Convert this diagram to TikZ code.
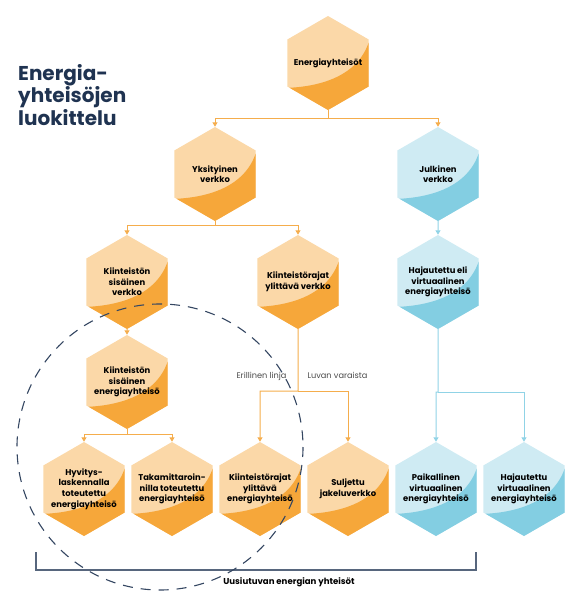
\documentclass[tikz,border=0pt]{standalone}
\usepackage{fontspec}
\setmainfont{Poppins}
\usetikzlibrary{shapes.geometric, arrows.meta}

\definecolor{orlight}{HTML}{FBD8A8}
\definecolor{ordark}{HTML}{F6A73A}
\definecolor{orline}{HTML}{F5AD4C}
\definecolor{bllight}{HTML}{CFEBF3}
\definecolor{bldark}{HTML}{83CEE2}
\definecolor{blline}{HTML}{90D3E6}
\definecolor{navy}{HTML}{1F3351}
\definecolor{labgray}{HTML}{4A4A4A}

\tikzset{
  hexa/.style 2 args={regular polygon, regular polygon sides=6, shape border rotate=30,
    minimum size=94pt, inner sep=-12pt, fill=#1, align=center,
    font=\fontsize{8.4}{10.6}\selectfont\bfseries,
    path picture={\fill[#2] ([shift={(-44pt,-25pt)}]path picture bounding box.center)
      .. controls +(40pt,1pt) and +(-8pt,-40pt) .. ([shift={(43pt,29pt)}]path picture bounding box.center)
      -- ([shift={(50pt,-50pt)}]path picture bounding box.center)
      -- ([shift={(-50pt,-50pt)}]path picture bounding box.center) -- cycle;}},
  orhex/.style={hexa={orlight}{ordark}},
  blhex/.style={hexa={bllight}{bldark}},
  orarrow/.style={draw=orline, line width=1pt, -{Triangle[width=5pt,length=4.5pt]}},
  blarrow/.style={draw=blline, line width=1pt, -{Triangle[width=5pt,length=4.5pt]}},
  sidelabel/.style={text=labgray, font=\fontsize{8.2}{9}\selectfont},
}

\begin{document}
\begin{tikzpicture}[x=1pt, y=-1pt]
  \useasboundingbox (0,0) rectangle (582,597);

  \node[anchor=north west, inner sep=0pt, text=navy, align=left,
    font=\fontsize{20}{22.5}\selectfont\bfseries] (title) at (18,64) {Energia-\\yhteisöjen\\luokittelu};

  \node[orhex] (ey) at (328,63) {Energiayhteisöt};
  \node[orhex] (yks) at (215,174) {Yksityinen\\verkko};
  \node[blhex] (jul) at (438,174) {Julkinen\\verkko};
  \node[orhex] (ksv) at (127,282) {Kiinteistön\\sisäinen\\verkko};
  \node[orhex] (kyv) at (298,282) {Kiinteistörajat\\ylittävä verkko};
  \node[blhex] (hve) at (438,282) {Hajautettu eli\\virtuaalinen\\energiayhteisö};
  \node[orhex] (kse) at (127,382) {Kiinteistön\\sisäinen\\energiayhteisö};

  \node[orhex] (hyv) at (84,489) {Hyvitys-\\laskennalla\\toteutettu\\energiayhteisö};
  \node[orhex] (tak) at (172,489) {Takamittaroin-\\nilla toteutettu\\energiayhteisö};
  \node[orhex] (kye) at (260,489) {Kiinteistörajat\\ylittävä\\energiayhteisö};
  \node[orhex] (sjv) at (348,489) {Suljettu\\jakeluverkko};
  \node[blhex] (pve) at (436,489) {Paikallinen\\virtuaalinen\\energiayhteisö};
  \node[blhex] (hje) at (524,489) {Hajautettu\\virtuaalinen\\energiayhteisö};

  \draw[orarrow] (ey.south) -- ++(0,8) -| (yks.north);
  \draw[orarrow] (ey.south) -- ++(0,8) -| (jul.north);
  \draw[orarrow] (yks.south) -- ++(0,4) -| (ksv.north);
  \draw[orarrow] (yks.south) -- ++(0,4) -| (kyv.north);
  \draw[blarrow] (jul.south) -- (hve.north);
  \draw[orarrow] (ksv.south) -- (kse.north);
  \draw[orarrow] (kse.south) -- ++(0,5) -| (hyv.north);
  \draw[orarrow] (kse.south) -- ++(0,5) -| (tak.north);

  \coordinate (kj) at (298,391);
  \draw[orarrow] (kyv.south) -- (kj) -| (kye.north);
  \draw[orarrow] (kj) -| (sjv.north);
  \coordinate (hj) at (438,392);
  \draw[blarrow] (hve.south) -- (hj) -| (pve.north);
  \draw[blarrow] (hj) -| (hje.north);

  \node[sidelabel, anchor=base east] (eri) at (290,378) {Erillinen linja};
  \node[sidelabel, anchor=base west] (luv) at (304,378) {Luvan varaista};

  \draw[draw=navy!75, line width=1.4pt] (36,552) -- (36,570) -- (476,570) -- (476,552);
  \node[font=\fontsize{8.6}{9}\selectfont\bfseries] (uus) at (289,582) {Uusiutuvan energian yhteisöt};

  \draw[navy!90, line width=1.1pt, dash pattern=on 10pt off 8pt] (160,447) circle (143);
\end{tikzpicture}
\end{document}
